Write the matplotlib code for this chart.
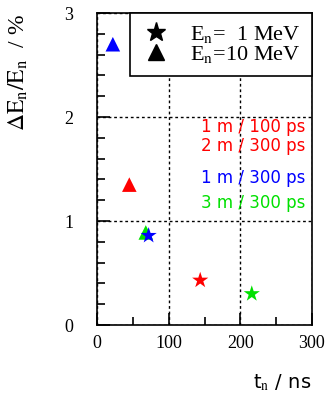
import matplotlib
matplotlib.use("Agg")
import matplotlib.pyplot as plt
from matplotlib.lines import Line2D
from matplotlib.ticker import MultipleLocator

# E_n = 1 MeV (stars) and E_n = 10 MeV (triangles), per setup
setups = ["1 m / 100 ps", "2 m / 300 ps", "1 m / 300 ps", "3 m / 300 ps"]
setup_colors = ["#ff0000", "#ff0000", "#0000ff", "#00e000"]

star_t = [144, 72, 216]          # t_n / ns
star_dE = [0.43, 0.86, 0.30]     # dE/E / %
star_col = ["#ff0000", "#0000ff", "#00e000"]

tri_t = [45, 22, 68]
tri_dE = [1.35, 2.70, 0.89]
tri_col = ["#ff0000", "#0000ff", "#00e000"]

plt.rcParams["mathtext.fontset"] = "stix"

fig = plt.figure(figsize=(3.28, 4.01), dpi=100)
ax = fig.add_axes([0.296, 0.1895, 0.655, 0.778])

ax.scatter(tri_t, tri_dE, marker="^", s=110, c=tri_col, linewidths=0, zorder=3)
ax.scatter(star_t, star_dE, marker="*", s=150, c=star_col, linewidths=0, zorder=4)

ax.set_xlim(0, 300)
ax.set_ylim(0, 3)
ax.xaxis.set_major_locator(MultipleLocator(100))
ax.xaxis.set_minor_locator(MultipleLocator(50))
ax.yaxis.set_major_locator(MultipleLocator(1))
ax.yaxis.set_minor_locator(MultipleLocator(0.2))
ax.tick_params(which="both", direction="in", top=False, right=False, width=1.2,
               labelsize=13)
ax.tick_params(which="major", length=9)
ax.tick_params(which="minor", length=6)
ax.tick_params(axis="y", pad=17)
ax.tick_params(axis="x", pad=7)
for lab in ax.get_xticklabels() + ax.get_yticklabels():
    lab.set_family("Liberation Serif")
ax.grid(which="major", ls=(0, (2, 2)), color="black", lw=1)
for s in ax.spines.values():
    s.set_linewidth(1.2)

# setup labels
ys = [0.635, 0.574, 0.471, 0.391]
for lab, c, y in zip(setups, setup_colors, ys):
    ax.text(0.97, y, lab, color=c, fontsize=12, ha="right", va="center",
            transform=ax.transAxes)

handles = [Line2D([], [], marker="*", color="black", ls="", markersize=14),
           Line2D([], [], marker="^", color="black", ls="", markersize=12)]
leg = ax.legend(handles, [r"E$_\mathrm{n}$=  1 MeV", r"E$_\mathrm{n}$=10 MeV"],
                loc="upper right", borderaxespad=0, fancybox=False,
                edgecolor="black", framealpha=1,
                prop={"family": "Liberation Serif", "size": 16},
                handletextpad=0.9, labelspacing=-0.05, borderpad=0.5,
                handlelength=1.3)
leg.get_frame().set_linewidth(1.2)

fig.text(0.055, 0.82, r"$\Delta\mathrm{E_n/E_n}$  / %", rotation=90, ha="center",
         va="center", fontsize=17, family="Liberation Serif")
fig.text(0.86, 0.045, r"t$_\mathrm{n}$ / ns", ha="center", va="center", fontsize=14)

fig.savefig("out.png", dpi=100)
